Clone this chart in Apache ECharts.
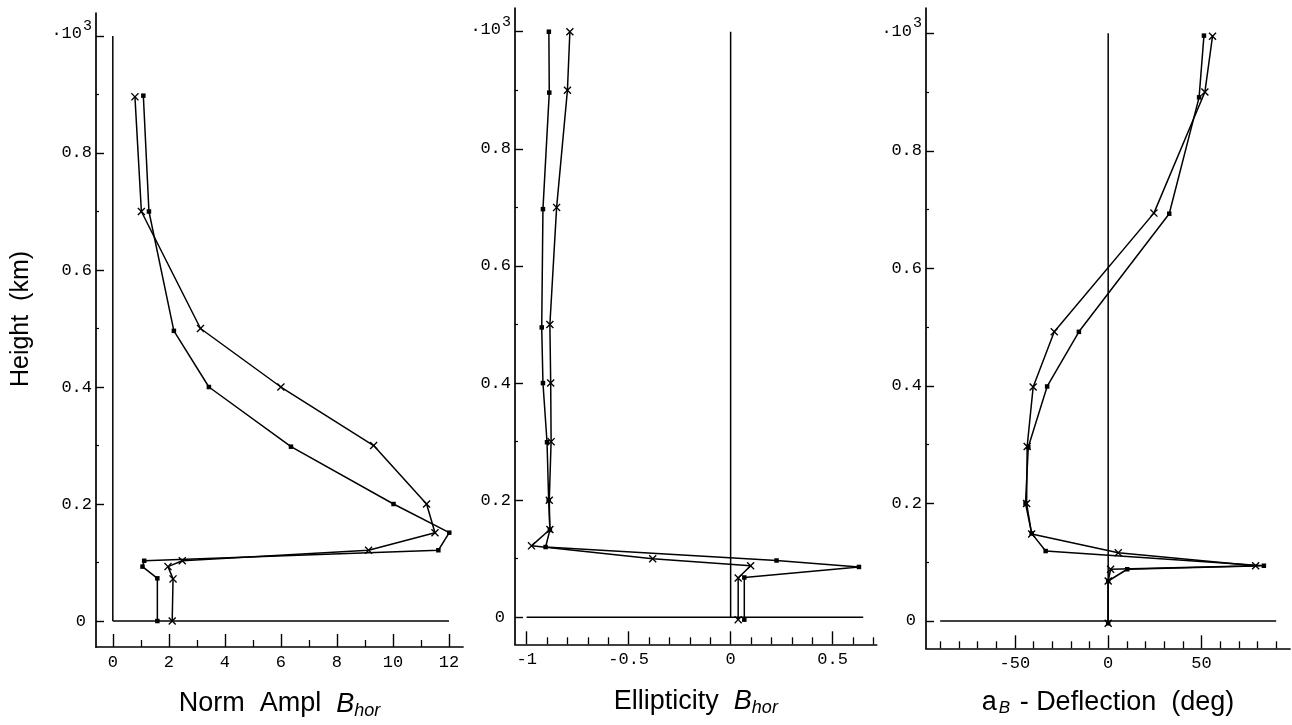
<!DOCTYPE html>
<html><head><meta charset="utf-8">
<script src="https://cdn.jsdelivr.net/npm/echarts@6/dist/echarts.min.js"></script>
<style>html,body{margin:0;padding:0;background:#fff}#c{width:1292px;height:725px}</style>
</head><body><div id="c"></div>
<script>
// ---------- Panel 1: Norm Ampl B_hor ----------
const ampDotV   = [1.09, 1.29, 2.18, 3.43, 6.36, 10.02, 12.01, 11.62, 1.12, 1.06, 1.59, 1.59];
const ampDotH   = [0.898, 0.70, 0.496, 0.40, 0.298, 0.20, 0.151, 0.121, 0.103, 0.093, 0.073, 0];
const ampCrossV = [0.79, 1.02, 3.13, 6.0, 9.31, 11.2, 11.5, 9.13, 2.48, 1.97, 2.15, 2.12];
const ampCrossH = [0.896, 0.70, 0.50, 0.40, 0.30, 0.20, 0.151, 0.121, 0.103, 0.093, 0.072, 0];
const ampZeroV  = [[0, 0], [0, 1]];
const ampZeroH  = [[0, 0], [12, 0]];
const ampMajorTicks = [0, 2, 4, 6, 8, 10, 12];
const ampMinorTicks = [1, 3, 5, 7, 9, 11];

// ---------- Panel 2: Ellipticity B_hor ----------
const ellDotV   = [-0.891, -0.889, -0.92, -0.926, -0.92, -0.90, -0.892, -0.886, -0.907, 0.225, 0.629, 0.067, 0.067];
const ellDotH   = [1.0, 0.896, 0.697, 0.495, 0.40, 0.299, 0.20, 0.149, 0.12, 0.097, 0.086, 0.068, -0.004];
const ellCrossV = [-0.788, -0.80, -0.853, -0.886, -0.882, -0.88, -0.889, -0.886, -0.976, -0.382, 0.098, 0.037, 0.037];
const ellCrossH = [1.0, 0.90, 0.70, 0.50, 0.40, 0.30, 0.20, 0.15, 0.122, 0.10, 0.088, 0.067, -0.004];
const ellZeroV  = [[0, 0], [0, 1]];
const ellZeroH  = [[-1, 0], [0.65, 0]];
const ellMajorTicks = [-1, -0.5, 0, 0.5];
const ellMinorTicks = [-0.9, -0.8, -0.7, -0.6, -0.4, -0.3, -0.2, -0.1, 0.1, 0.2, 0.3, 0.4, 0.6, 0.7];

// ---------- Panel 3: a_B - Deflection (deg) ----------
const defDotV   = [51.3, 48.7, 32.7, -15.7, -32.7, -42.8, -44.3, -41, -33.5, 83.4, 10.2, 0, 0];
const defDotH   = [0.996, 0.891, 0.693, 0.492, 0.399, 0.296, 0.20, 0.149, 0.119, 0.094, 0.088, 0.068, -0.004];
const defCrossV = [55.9, 51.8, 24.5, -28.9, -40.2, -43.4, -43.7, -41, 5.4, 79, 1.3, 0, 0];
const defCrossH = [0.995, 0.90, 0.694, 0.492, 0.398, 0.297, 0.20, 0.148, 0.116, 0.094, 0.088, 0.068, -0.004];
const defZeroV  = [[0, 0], [0, 1]];
const defZeroH  = [[-90, 0], [90, 0]];
const defMajorTicks = [-50, 0, 50];
const defMinorTicks = [-90, -80, -70, -60, -40, -30, -20, -10, 10, 20, 30, 40, 60, 70, 80, 90];

// ---------- Shared height axis ticks ----------
const yMajorTicks = [0, 0.2, 0.4, 0.6, 0.8, 1.0];
const yMinorTicks = [0.1, 0.3, 0.5, 0.7, 0.9];

const panelTitles = [
  '{r|Norm  Ampl  }{i|B}{s|hor}',
  '{r|Ellipticity  }{i|B}{s|hor}',
  '{r|a}{b|B}{r| - Deflection  (deg)}'
];
const yTitle = 'Height  (km)';

// ---------- layout (pixels) ----------
const panels = [
  {left: 96,  width: 367,   top: 13, height: 634,   xmin: -0.6,   xmax: 12.5,  ymin: -0.0444, ymax: 1.0393,
   major: ampMajorTicks, minor: ampMinorTicks, dot: [ampDotV, ampDotH], cross: [ampCrossV, ampCrossH], zv: ampZeroV, zh: ampZeroH},
  {left: 515, width: 361.7, top: 8,  height: 636.3, xmin: -1.057, xmax: 0.716, ymin: -0.0461, ymax: 1.0405,
   major: ellMajorTicks, minor: ellMinorTicks, dot: [ellDotV, ellDotH], cross: [ellCrossV, ellCrossH], zv: ellZeroV, zh: ellZeroH},
  {left: 926, width: 364,   top: 8,  height: 640.3, xmin: -97.6,  xmax: 97.4,  ymin: -0.0465, ymax: 1.043,
   major: defMajorTicks, minor: defMinorTicks, dot: [defDotV, defDotH], cross: [defCrossV, defCrossH], zv: defZeroV, zh: defZeroH}
];

const MONO = 'Liberation Mono';
const SANS = 'Liberation Sans';
const BLACK = '#000';
const crossPath = 'path://M0,1.2L1.2,0L5,3.8L8.8,0L10,1.2L6.2,5L10,8.8L8.8,10L5,6.2L1.2,10L0,8.8L3.8,5Z';

const grid = [], xAxis = [], yAxis = [], series = [];
const zip = (a, b) => a.map((v, k) => [v, b[k]]);

panels.forEach((p, i) => {
  grid.push({left: p.left, top: p.top, width: p.width, height: p.height, outerBoundsMode: 'none', containLabel: false});
  // main x axis
  xAxis.push({
    type: 'value', gridIndex: i, min: p.xmin, max: p.xmax, position: 'bottom',
    axisLine: {show: true, onZero: false, lineStyle: {color: BLACK, width: 1.7}},
    axisTick: {show: true, inside: true, length: 13, customValues: p.major, lineStyle: {color: BLACK, width: 1.4}},
    axisLabel: {show: true, customValues: p.major, margin: 7, color: BLACK, fontFamily: MONO, fontSize: 17,
      formatter: v => String(v)},
    splitLine: {show: false},
    name: panelTitles[i], nameLocation: 'middle', nameGap: 41,
    nameTextStyle: {color: BLACK, fontFamily: SANS, fontSize: 27,
      rich: {
        r: {fontFamily: SANS, fontSize: 27, color: BLACK},
        i: {fontFamily: SANS, fontSize: 27, fontStyle: 'italic', color: BLACK},
        s: {fontFamily: SANS, fontSize: 18, fontStyle: 'italic', color: BLACK, padding: [14, 0, 0, 0]},
        b: {fontFamily: SANS, fontSize: 17, fontStyle: 'italic', color: BLACK, padding: [10, 2, 0, 2]}
      }}
  });
  // minor x ticks
  xAxis.push({
    type: 'value', gridIndex: i, min: p.xmin, max: p.xmax, position: 'bottom',
    axisLine: {show: false, onZero: false},
    axisTick: {show: true, inside: true, length: 7, customValues: p.minor, lineStyle: {color: BLACK, width: 1.3}},
    axisLabel: {show: false}, splitLine: {show: false}
  });
  // main y axis
  yAxis.push({
    type: 'value', gridIndex: i, min: p.ymin, max: p.ymax, position: 'left',
    axisLine: {show: true, onZero: false, lineStyle: {color: BLACK, width: 1.7}},
    axisTick: {show: true, inside: true, length: 8, customValues: yMajorTicks, lineStyle: {color: BLACK, width: 1.4}},
    axisLabel: {show: true, customValues: yMajorTicks, margin: 4, color: BLACK, fontFamily: MONO, fontSize: 17,
      formatter: v => v === 1 ? '{t|·10}{u|3}' : (v === 0 ? '{z|0}' : v.toFixed(1)),
      rich: {
        t: {fontFamily: MONO, fontSize: 17, color: BLACK, padding: [0, 0, 4, 0]},
        u: {fontFamily: MONO, fontSize: 15, color: BLACK, padding: [0, 0, 20, 1]},
        z: {fontFamily: MONO, fontSize: 17, color: BLACK, padding: [0, 6, 0, 0]}
      }},
    splitLine: {show: false},
    name: i === 0 ? yTitle : '', nameLocation: 'middle', nameGap: 62, nameRotate: 90,
    nameTextStyle: {color: BLACK, fontFamily: SANS, fontSize: 25, padding: [0, 0, 0, 22]}
  });
  // minor y ticks
  yAxis.push({
    type: 'value', gridIndex: i, min: p.ymin, max: p.ymax, position: 'left',
    axisLine: {show: false, onZero: false},
    axisTick: {show: true, inside: true, length: 3, customValues: yMinorTicks, lineStyle: {color: BLACK, width: 1.2}},
    axisLabel: {show: false}, splitLine: {show: false}
  });

  const ax = {xAxisIndex: 2 * i, yAxisIndex: 2 * i};
  // zero reference lines
  [p.zv, p.zh].forEach(d => series.push(Object.assign({
    type: 'line', data: d, showSymbol: false, symbol: 'none', silent: true,
    lineStyle: {color: BLACK, width: 1.5}, animation: false
  }, ax)));
  // dot series
  series.push(Object.assign({
    type: 'line', data: zip(p.dot[0], p.dot[1]), symbol: 'rect', symbolSize: 4.5, showSymbol: true,
    itemStyle: {color: BLACK}, lineStyle: {color: BLACK, width: 1.5}, animation: false, z: 3
  }, ax));
  // cross series
  series.push(Object.assign({
    type: 'line', data: zip(p.cross[0], p.cross[1]), symbol: crossPath, symbolSize: 8, showSymbol: true,
    itemStyle: {color: BLACK}, lineStyle: {color: BLACK, width: 1.5}, animation: false, z: 3
  }, ax));
});

const chart = echarts.init(document.getElementById('c'), null, {renderer: 'canvas'});
chart.setOption({backgroundColor: '#fff', animation: false, grid, xAxis, yAxis, series});
</script>
</body></html>
